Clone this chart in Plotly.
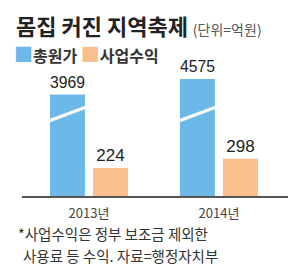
import plotly.graph_objects as go

W, H = 300, 279
years = ["2013년", "2014년"]
total_cost = [3969, 4575]      # 총원가
biz_income = [224, 298]        # 사업수익

title = "몸집 커진 지역축제"
unit = "(단위=억원)"
legend_names = ["총원가", "사업수익"]
note_lines = ["*사업수익은 정부 보조금 제외한", "사용료 등 수익. 자료=행정자치부"]

BLUE = "#6CB9E9"
ORANGE = "#F9C08D"
KFONT = "Noto Sans CJK KR"
NFONT = "Liberation Sans Narrow, Arial Narrow, Arial"

def px(x):
    return x / W

def py(y):
    return 1 - y / H

BW = 0.269
fig = go.Figure()
fig.add_bar(x=years, y=total_cost, yaxis="y2", width=BW, offset=-0.3,
            marker=dict(color=BLUE, line=dict(width=0)), name=legend_names[0],
            texttemplate="%{y}", textposition="outside", cliponaxis=False,
            textfont=dict(family=NFONT, size=17, color="#222"))
fig.add_bar(x=years, y=biz_income, yaxis="y", width=BW, offset=0.031,
            marker=dict(color=ORANGE, line=dict(width=0)), name=legend_names[1],
            texttemplate="%{y}", textposition="outside", cliponaxis=False,
            textfont=dict(family=NFONT, size=17, color="#222"))

shapes = []
for i in range(len(years)):
    shapes.append(dict(type="line", xref="x", yref="paper",
                       x0=i - 0.3 - 0.01, x1=i - 0.3 + BW + 0.01,
                       y0=py(121), y1=py(107),
                       line=dict(color="white", width=3), layer="above"))

annotations = [
    dict(x=px(14), y=py(25), xref="paper", yref="paper", xanchor="left", yanchor="middle",
         showarrow=False,
         text=f"<b>{title}</b> <span style='font-size:14px;color:#555'>{unit}</span>",
         font=dict(family=KFONT, size=22, color="#222")),
    dict(x=px(12), y=py(53), xref="paper", yref="paper", xanchor="left", yanchor="middle",
         showarrow=False,
         text=(f"<span style='color:{BLUE};font-size:19px'>■</span><b>{legend_names[0]}</b>"
               f" <span style='color:{ORANGE};font-size:19px'>■</span><b>{legend_names[1]}</b>"),
         font=dict(family=KFONT, size=16, color="#333")),
    dict(x=px(16), y=py(233), xref="paper", yref="paper", xanchor="left", yanchor="middle",
         showarrow=False, text=note_lines[0],
         font=dict(family=KFONT, size=14.5, color="#333")),
    dict(x=px(21), y=py(255), xref="paper", yref="paper", xanchor="left", yanchor="middle",
         showarrow=False, text=note_lines[1],
         font=dict(family=KFONT, size=14.5, color="#333")),
]

fig.update_layout(
    width=W, height=H, margin=dict(l=0, r=0, t=0, b=0),
    paper_bgcolor="white", plot_bgcolor="white", showlegend=False,
    barmode="overlay",
    xaxis=dict(domain=[px(22), px(288)], range=[-0.515, 1.531], type="category",
               showline=True, linecolor="#555", linewidth=2, showgrid=False,
               zeroline=False, ticks="", ticklabelstandoff=4,
               tickfont=dict(family=KFONT, size=13, color="#444")),
    yaxis=dict(domain=[py(196), py(60)], range=[0, 1090], visible=False, showgrid=False),
    yaxis2=dict(domain=[py(196), py(60)], range=[0, 5320], visible=False, showgrid=False,
                overlaying="y"),
    shapes=shapes, annotations=annotations,
)
fig.write_html("out.html")
